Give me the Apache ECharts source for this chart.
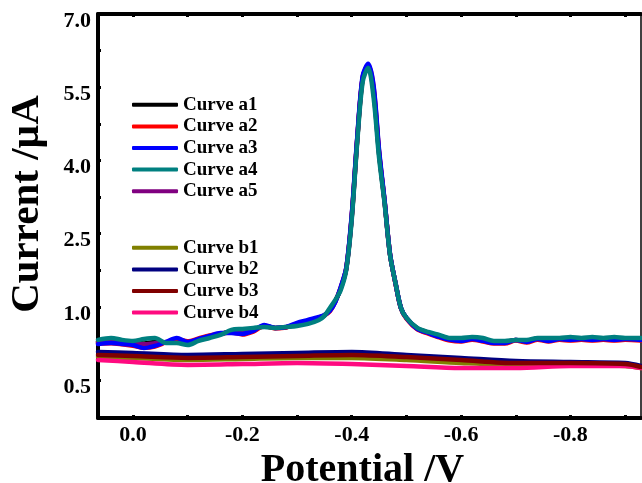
<!DOCTYPE html>
<html>
<head>
<meta charset="utf-8">
<script src="https://cdn.jsdelivr.net/npm/echarts@6/dist/echarts.min.js"></script>
<style>
  html, body { margin: 0; padding: 0; background: #fff; }
  #chart { width: 642px; height: 483px; }
</style>
</head>
<body>
<div id="chart"></div>
<script>
// Potential sweep (V) for the a-series; denser sampling across the peak
const potentials = [0.064, 0.04, 0.02, 0.0, -0.02, -0.04, -0.06, -0.08, -0.10, -0.12, -0.14, -0.16, -0.18, -0.20, -0.22, -0.24, -0.26, -0.28, -0.30, -0.32, -0.34,
  -0.35, -0.36, -0.37, -0.38, -0.39, -0.40, -0.41, -0.42, -0.43, -0.44, -0.45, -0.46, -0.47, -0.48, -0.49, -0.50,
  -0.52, -0.54, -0.56, -0.58, -0.60, -0.62, -0.64, -0.66, -0.68, -0.70, -0.72, -0.74, -0.76, -0.78, -0.80, -0.82, -0.84, -0.86, -0.88, -0.90,
  -0.929];

// Currents (µA)
const curveA1 = [0.762, 0.770, 0.760, 0.755, 0.750, 0.760, 0.758, 0.770, 0.752, 0.774, 0.795, 0.815, 0.832, 0.834, 0.846, 0.868, 0.857, 0.862, 0.880, 0.897, 0.920,
  0.942, 0.982, 1.120, 1.380, 1.780, 2.830, 4.410, 5.670, 5.930, 5.400, 4.130, 3.160, 2.075, 1.490, 0.993, 0.925,
  0.853, 0.825, 0.802, 0.782, 0.778, 0.788, 0.778, 0.761, 0.761, 0.775, 0.768, 0.784, 0.778, 0.784, 0.785, 0.784, 0.785, 0.784, 0.785, 0.784,
  0.781];
const curveA2 = [0.750, 0.752, 0.745, 0.735, 0.722, 0.730, 0.758, 0.780, 0.765, 0.785, 0.805, 0.818, 0.826, 0.812, 0.832, 0.870, 0.855, 0.860, 0.886, 0.906, 0.928,
  0.942, 0.970, 1.110, 1.400, 1.790, 2.860, 4.420, 5.700, 5.960, 5.500, 4.180, 3.170, 2.080, 1.480, 0.990, 0.920,
  0.846, 0.818, 0.792, 0.770, 0.764, 0.776, 0.764, 0.750, 0.750, 0.770, 0.757, 0.776, 0.764, 0.776, 0.770, 0.776, 0.770, 0.776, 0.770, 0.776,
  0.770];
const curveA3 = [0.747, 0.754, 0.747, 0.740, 0.720, 0.734, 0.761, 0.788, 0.761, 0.781, 0.802, 0.822, 0.822, 0.816, 0.836, 0.877, 0.857, 0.863, 0.891, 0.911, 0.932,
  0.945, 0.973, 1.102, 1.410, 1.799, 2.885, 4.463, 5.734, 5.980, 5.529, 4.217, 3.193, 2.086, 1.492, 0.993, 0.925,
  0.850, 0.822, 0.795, 0.775, 0.768, 0.781, 0.768, 0.754, 0.754, 0.775, 0.761, 0.781, 0.768, 0.781, 0.775, 0.781, 0.775, 0.781, 0.775, 0.781,
  0.775];
const curveA4 = [0.775, 0.788, 0.775, 0.768, 0.781, 0.788, 0.754, 0.754, 0.740, 0.768, 0.788, 0.809, 0.843, 0.850, 0.857, 0.863, 0.857, 0.863, 0.870, 0.884, 0.911,
  0.939, 0.993, 1.143, 1.348, 1.758, 2.783, 4.361, 5.611, 5.898, 5.283, 4.053, 3.131, 2.066, 1.492, 0.993, 0.925,
  0.857, 0.829, 0.809, 0.788, 0.788, 0.795, 0.788, 0.768, 0.768, 0.775, 0.775, 0.788, 0.788, 0.788, 0.795, 0.788, 0.795, 0.788, 0.795, 0.788,
  0.788];
const curveA5 = [0.758, 0.766, 0.756, 0.750, 0.745, 0.752, 0.757, 0.775, 0.755, 0.778, 0.798, 0.816, 0.828, 0.826, 0.842, 0.872, 0.856, 0.861, 0.884, 0.902, 0.925,
  0.943, 0.978, 1.115, 1.390, 1.790, 2.850, 4.440, 5.700, 5.950, 5.450, 4.160, 3.180, 2.080, 1.490, 0.992, 0.924,
  0.851, 0.823, 0.799, 0.779, 0.773, 0.784, 0.773, 0.757, 0.757, 0.775, 0.764, 0.782, 0.773, 0.782, 0.780, 0.782, 0.780, 0.782, 0.780, 0.782,
  0.778];

// Potential sweep (V) and currents (µA) for the flat b-series
const potentialsB = [0.064, 0.0, -0.1, -0.2, -0.3, -0.4, -0.5, -0.6, -0.7, -0.8, -0.9, -0.929];
const curveB1 = [0.658, 0.652, 0.638, 0.645, 0.652, 0.652, 0.638, 0.617, 0.604, 0.604, 0.597, 0.583];
const curveB2 = [0.693, 0.686, 0.672, 0.679, 0.686, 0.693, 0.672, 0.652, 0.631, 0.624, 0.617, 0.597];
const curveB3 = [0.672, 0.665, 0.652, 0.658, 0.665, 0.672, 0.658, 0.638, 0.617, 0.617, 0.610, 0.590];
const curveB4 = [0.638, 0.624, 0.604, 0.610, 0.617, 0.610, 0.597, 0.583, 0.583, 0.597, 0.597, 0.583];

// Axis ticks
const xLabelValues = [0.0, -0.2, -0.4, -0.6, -0.8];
const xTickValues = [0.0, -0.1, -0.2, -0.3, -0.4, -0.5, -0.6, -0.7, -0.8, -0.9];
const yTickValues = [0.5, 1.0, 2.5, 4.0, 5.5, 7.0];

// The current axis is compressed below 1.0 µA (0.5 → 1.0 takes the same span as 1.0 → 2.5)
function toAxis(v) { return v >= 1 ? v : 1 - (1 - v) * 3; }
function fromAxis(a) { return a >= 1 ? a : 1 - (1 - a) / 3; }

const yLabelPos = yTickValues.map(toAxis);
const yTickPos = [];
yLabelPos.forEach((p, i) => {
  yTickPos.push(p);
  if (i < yLabelPos.length - 1) yTickPos.push((p + yLabelPos[i + 1]) / 2);
});

const FONT = '"Liberation Serif", "Times New Roman", serif';

function pairs(xs, ys) { return xs.map((x, i) => [x, toAxis(ys[i])]); }

function line(name, color, xs, ys) {
  return {
    name: name,
    type: 'line',
    xAxisIndex: 0,
    yAxisIndex: 0,
    data: pairs(xs, ys),
    smooth: 0.3,
    showSymbol: false,
    symbol: 'none',
    itemStyle: { color: color },
    lineStyle: { color: color, width: 4.5, cap: 'round', join: 'round' },
    emphasis: { disabled: true },
    animation: false
  };
}

const namesA = ['Curve a1', 'Curve a2', 'Curve a3', 'Curve a4', 'Curve a5'];
const namesB = ['Curve b1', 'Curve b2', 'Curve b3', 'Curve b4'];

const legendText = { fontFamily: FONT, fontWeight: 'bold', fontSize: 19, color: '#000', lineHeight: 21.6 };

const xRange = { min: -0.929, max: 0.064 };
const yRange = { min: -1.275, max: 7.0 };

const option = {
  backgroundColor: '#fff',
  animation: false,
  grid: { left: 98, right: 1, top: 14, bottom: 65, containLabel: false, outerBoundsMode: 'none' },
  legend: [
    { data: namesA, orient: 'vertical', left: 132, top: 94, padding: 0, itemGap: 0,
      itemWidth: 46, itemHeight: 4, icon: 'roundRect', selectedMode: false, textStyle: legendText },
    { data: namesB, orient: 'vertical', left: 132, top: 237, padding: 0, itemGap: 0,
      itemWidth: 46, itemHeight: 4, icon: 'roundRect', selectedMode: false, textStyle: legendText }
  ],
  xAxis: [
    {
      type: 'value', inverse: true, min: xRange.min, max: xRange.max,
      name: 'Potential /V', nameLocation: 'middle', nameGap: 25,
      nameTextStyle: { fontFamily: FONT, fontWeight: 'bold', fontSize: 40, color: '#000', padding: [0, 14, 0, 0] },
      axisLine: { show: true, onZero: false, lineStyle: { color: '#000', width: 4 } },
      axisTick: { show: true, inside: true, length: 3, customValues: xTickValues, lineStyle: { color: '#000', width: 3 } },
      axisLabel: { show: true, margin: 6, customValues: xLabelValues, formatter: v => v.toFixed(1),
        fontFamily: FONT, fontWeight: 'bold', fontSize: 22, color: '#000' },
      splitLine: { show: false }
    },
    {
      type: 'value', inverse: true, position: 'top', min: xRange.min, max: xRange.max,
      axisLine: { show: true, onZero: false, lineStyle: { color: '#000', width: 4 } },
      axisTick: { show: true, inside: true, length: 3, customValues: xTickValues, lineStyle: { color: '#000', width: 3 } },
      axisLabel: { show: false },
      splitLine: { show: false }
    }
  ],
  yAxis: [
    {
      type: 'value', min: yRange.min, max: yRange.max,
      name: 'Current /µA', nameLocation: 'middle', nameGap: 50,
      nameTextStyle: { fontFamily: FONT, fontWeight: 'bold', fontSize: 41, color: '#000', padding: [0, 0, 0, 24] },
      axisLine: { show: true, onZero: false, lineStyle: { color: '#000', width: 4 } },
      axisTick: { show: true, inside: true, length: 3, customValues: yTickPos, lineStyle: { color: '#000', width: 3 } },
      axisLabel: { show: true, margin: 7, customValues: yLabelPos, formatter: v => fromAxis(v).toFixed(1),
        verticalAlign: 'top', lineHeight: 14,
        fontFamily: FONT, fontWeight: 'bold', fontSize: 22, color: '#000' },
      splitLine: { show: false }
    },
    {
      type: 'value', position: 'right', min: yRange.min, max: yRange.max,
      axisLine: { show: true, onZero: false, lineStyle: { color: '#000', width: 1.5 } },
      axisTick: { show: false },
      axisLabel: { show: false },
      splitLine: { show: false }
    }
  ],
  series: [
    line('Curve b1', '#808000', potentialsB, curveB1),
    line('Curve b4', '#ff0a80', potentialsB, curveB4),
    line('Curve b2', '#000080', potentialsB, curveB2),
    line('Curve b3', '#800000', potentialsB, curveB3),
    line('Curve a1', '#000000', potentials, curveA1),
    line('Curve a5', '#800080', potentials, curveA5),
    line('Curve a2', '#ff0000', potentials, curveA2),
    line('Curve a3', '#0000ff', potentials, curveA3),
    line('Curve a4', '#008080', potentials, curveA4)
  ]
};

const chart = echarts.init(document.getElementById('chart'), null, { renderer: 'canvas' });
chart.setOption(option);
</script>
</body>
</html>
